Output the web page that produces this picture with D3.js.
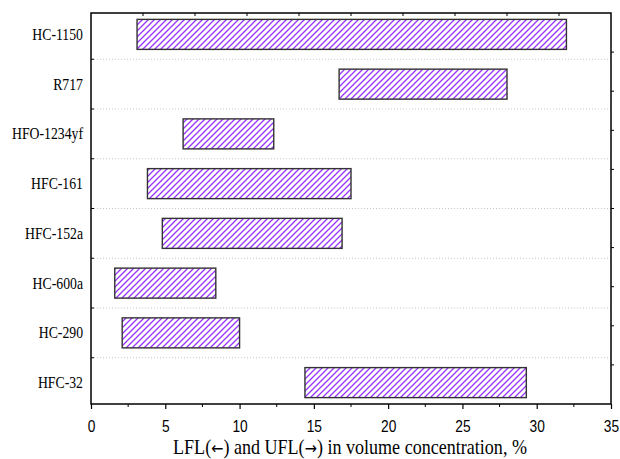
<!DOCTYPE html>
<html>
<head>
<meta charset="utf-8">
<script src="https://cdn.jsdelivr.net/npm/d3@7"></script>
<style>
  body { margin: 0; background: #fff; }
  svg { display: block; }
</style>
</head>
<body>
<svg id="chart" width="620" height="459"></svg>
<script>
const categories = ["HC-1150", "R717", "HFO-1234yf", "HFC-161", "HFC-152a", "HC-600a", "HC-290", "HFC-32"];
const lfl = [3.1, 16.7, 6.2, 3.8, 4.8, 1.6, 2.1, 14.4];
const ufl = [32.0, 28.0, 12.3, 17.5, 16.9, 8.4, 10.0, 29.3];
const xTicks = [0, 5, 10, 15, 20, 25, 30, 35];
const xTitle = "LFL(\u2190) and UFL(\u2192) in volume concentration, %";

const svg = d3.select("#chart");
const m = { left: 91, right: 611, top: 13, bottom: 404 };
const SX = 0.86; // horizontal squeeze of the reference text

const x = d3.scaleLinear().domain([0, 35]).range([m.left, m.right]);
const y = d3.scalePoint().domain(categories).range([m.top, m.bottom]).padding(0.43);
const step = y.step();
const barH = 30;

// hatch pattern
const defs = svg.append("defs");
const pat = defs.append("pattern")
  .attr("id", "hatch").attr("patternUnits", "userSpaceOnUse")
  .attr("width", 6).attr("height", 6);
pat.append("rect").attr("width", 6).attr("height", 6).attr("fill", "#fff");
pat.append("path")
  .attr("d", "M0,6 L6,0 M-1.5,1.5 L1.5,-1.5 M4.5,7.5 L7.5,4.5")
  .attr("stroke", "#9933ff").attr("stroke-width", 1.3);

// dotted separators between categories
const seps = categories.slice(1).map(c => y(c) - step / 2);
svg.append("g").selectAll("line").data(seps).join("line")
  .attr("x1", m.left).attr("x2", m.right)
  .attr("y1", d => d).attr("y2", d => d)
  .attr("stroke", "#c8c8c8").attr("stroke-width", 1)
  .attr("stroke-dasharray", "1,2");

// left inner ticks at separators
svg.append("g").selectAll("line").data(seps).join("line")
  .attr("x1", m.left).attr("x2", m.left + 3)
  .attr("y1", d => d).attr("y2", d => d)
  .attr("stroke", "#000").attr("stroke-width", 1);

// bars
svg.append("g").selectAll("rect").data(categories).join("rect")
  .attr("x", (d, i) => x(lfl[i]))
  .attr("width", (d, i) => x(ufl[i]) - x(lfl[i]))
  .attr("y", d => y(d) - barH / 2)
  .attr("height", barH)
  .attr("fill", "url(#hatch)")
  .attr("stroke", "#333").attr("stroke-width", 1.4);

// bottom axis
const xAxis = d3.axisBottom(x).tickValues(xTicks).tickSize(5).tickPadding(0).tickFormat(d3.format("d"));
const gx = svg.append("g").attr("transform", `translate(0,${m.bottom})`).call(xAxis);
gx.select(".domain").remove();
gx.selectAll(".tick line").attr("stroke", "#000").attr("stroke-width", 1.2);
gx.selectAll("text")
  .attr("y", 28).attr("dy", null)
  .attr("transform", `scale(${SX},1)`)
  .attr("font-family", "Liberation Sans, Arial, sans-serif")
  .attr("font-size", 16).attr("fill", "#000");
// minor ticks
const minor = d3.range(2.5, 35, 5);
svg.append("g").selectAll("line").data(minor).join("line")
  .attr("x1", d => x(d)).attr("x2", d => x(d))
  .attr("y1", m.bottom).attr("y2", m.bottom + 3)
  .attr("stroke", "#000").attr("stroke-width", 1);

// top ticks (10 divisions, inward)
const topT = d3.range(1, 10).map(i => m.left + (m.right - m.left) * i / 10);
svg.append("g").selectAll("line").data(topT).join("line")
  .attr("x1", d => d).attr("x2", d => d)
  .attr("y1", m.top).attr("y2", m.top + 3)
  .attr("stroke", "#000").attr("stroke-width", 1);
// right ticks (10 divisions, outward)
const rightT = d3.range(1, 10).map(i => m.top + (m.bottom - m.top) * i / 10);
svg.append("g").selectAll("line").data(rightT).join("line")
  .attr("x1", m.right).attr("x2", m.right + 3)
  .attr("y1", d => d).attr("y2", d => d)
  .attr("stroke", "#000").attr("stroke-width", 1);

// frame
svg.append("rect")
  .attr("x", m.left).attr("y", m.top)
  .attr("width", m.right - m.left).attr("height", m.bottom - m.top)
  .attr("fill", "none").attr("stroke", "#000").attr("stroke-width", 1.5);

// category labels
svg.append("g").selectAll("text").data(categories).join("text")
  .attr("transform", d => `translate(83,${y(d) + 5.5}) scale(${SX},1)`)
  .attr("text-anchor", "end")
  .attr("font-family", "Liberation Serif, Times New Roman, serif")
  .attr("font-size", 16).attr("fill", "#000")
  .text(d => d);

// x title (arrows drawn in a font that has them)
const title = svg.append("text")
  .attr("transform", `translate(350,454) scale(${SX},1)`)
  .attr("text-anchor", "middle")
  .attr("font-family", "Liberation Serif, Times New Roman, serif")
  .attr("font-size", 21).attr("fill", "#000");
xTitle.split(/([\u2190\u2192])/).forEach(part => {
  const t = title.append("tspan").text(part);
  if (part === "\u2190" || part === "\u2192") {
    t.attr("font-family", "DejaVu Sans, sans-serif").attr("font-size", 17);
  }
});
</script>
</body>
</html>
